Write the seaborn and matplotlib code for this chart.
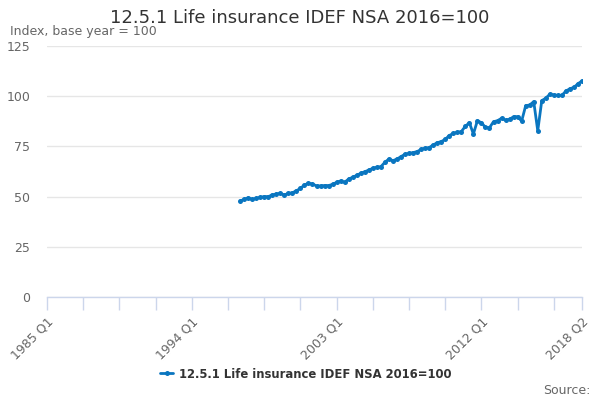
import numpy as np
import pandas as pd
import matplotlib
matplotlib.use("Agg")
import matplotlib.pyplot as plt
import seaborn as sns

title = "12.5.1 Life insurance IDEF NSA 2016=100"
series_name = "12.5.1 Life insurance IDEF NSA 2016=100"
y_label = "Index, base year = 100"

start_year = 1985
n_quarters = 134  # 1985 Q1 .. 2018 Q2
quarter_labels = [f"{start_year + i // 4} Q{i % 4 + 1}" for i in range(n_quarters)]

first_index = 48  # 1997 Q1
values = [
    47.8, 48.6, 49.4, 48.6, 49.1, 49.6, 50.0, 50.0, 50.8, 51.3,
    51.6, 50.8, 51.6, 51.9, 52.9, 54.1, 55.8, 56.6, 56.3, 55.3,
    55.3, 55.5, 55.5, 56.1, 57.1, 57.8, 57.1, 58.8, 59.6, 60.6,
    61.6, 62.4, 63.2, 64.1, 64.6, 64.9, 67.1, 68.7, 67.9, 68.7,
    69.9, 71.1, 71.5, 71.9, 72.4, 73.5, 74.1, 74.4, 75.7, 76.8,
    77.4, 78.5, 80.4, 81.5, 82.0, 82.4, 85.0, 86.8, 81.2, 87.8,
    86.8, 84.5, 84.3, 87.3, 87.8, 89.0, 88.1, 88.5, 89.8, 89.8,
    87.6, 95.3, 95.6, 97.3, 82.8, 97.8, 99.0, 101.0, 100.6, 100.4,
    100.4, 102.6, 103.7, 104.4, 106.2, 107.6,
]

y_ticks = [0, 25, 50, 75, 100, 125]
x_tick_step = 9
x_label_positions = [0, 36, 72, 108, 133]

df = pd.DataFrame({
    "idx": np.arange(first_index, first_index + len(values)),
    "value": values,
})
df["quarter"] = [quarter_labels[i] for i in df["idx"]]

sns.set_theme(style="white")
plt.rcParams["font.family"] = ["DejaVu Sans"]

fig = plt.figure(figsize=(6, 4), dpi=100)
ax = fig.add_axes([47 / 600, 1 - 297 / 400, (582 - 47) / 600, (297 - 46) / 400])

blue = "#0a76c0"
sns.lineplot(data=df, x="idx", y="value", ax=ax, color=blue, linewidth=2,
             marker="o", markersize=3.6, markeredgewidth=0, label=series_name,
             legend=False)

ax.set_xlim(0, n_quarters - 1)
ax.set_ylim(0, 125)
ax.set_yticks(y_ticks)
ax.set_yticklabels([str(v) for v in y_ticks])
ax.yaxis.grid(True, color="#e6e6e6", linewidth=1)
ax.xaxis.grid(False)
ax.set_axisbelow(True)

xt = list(range(0, n_quarters, x_tick_step)) + [n_quarters - 1]
ax.set_xticks(xt)
ax.set_xticklabels([quarter_labels[i] if i in x_label_positions else "" for i in xt],
                   rotation=45, ha="right", rotation_mode="anchor")
ax.tick_params(axis="x", length=9, width=1, color="#ccd6eb", labelsize=9,
               labelcolor="#666666", pad=4, direction="out")
ax.tick_params(axis="y", length=0, labelsize=9, labelcolor="#666666", pad=12)
ax.xaxis.set_ticks_position("bottom")
for s in ["top", "right", "left"]:
    ax.spines[s].set_visible(False)
ax.spines["bottom"].set_color("#ccd6eb")
ax.spines["bottom"].set_linewidth(1)
ax.set_xlabel("")
ax.set_ylabel("")

fig.text(0.5, 1 - 18 / 400, title, ha="center", va="center", fontsize=13,
         color="#333333")
fig.text(10 / 600, 1 - 32 / 400, y_label, ha="left", va="center", fontsize=9,
         color="#666666")

handles, labels = ax.get_legend_handles_labels()
leg = fig.legend(handles, labels, loc="center", bbox_to_anchor=(0.51, 1 - 374 / 400),
                 frameon=False, fontsize=8.4, handlelength=1.1, handletextpad=0.5)
for t in leg.get_texts():
    t.set_fontweight("bold")
    t.set_color("#333333")

fig.text(590 / 600, 1 - 390 / 400, "Source:", ha="right", va="center", fontsize=9,
         color="#666666")

fig.savefig("out.png", dpi=100)
